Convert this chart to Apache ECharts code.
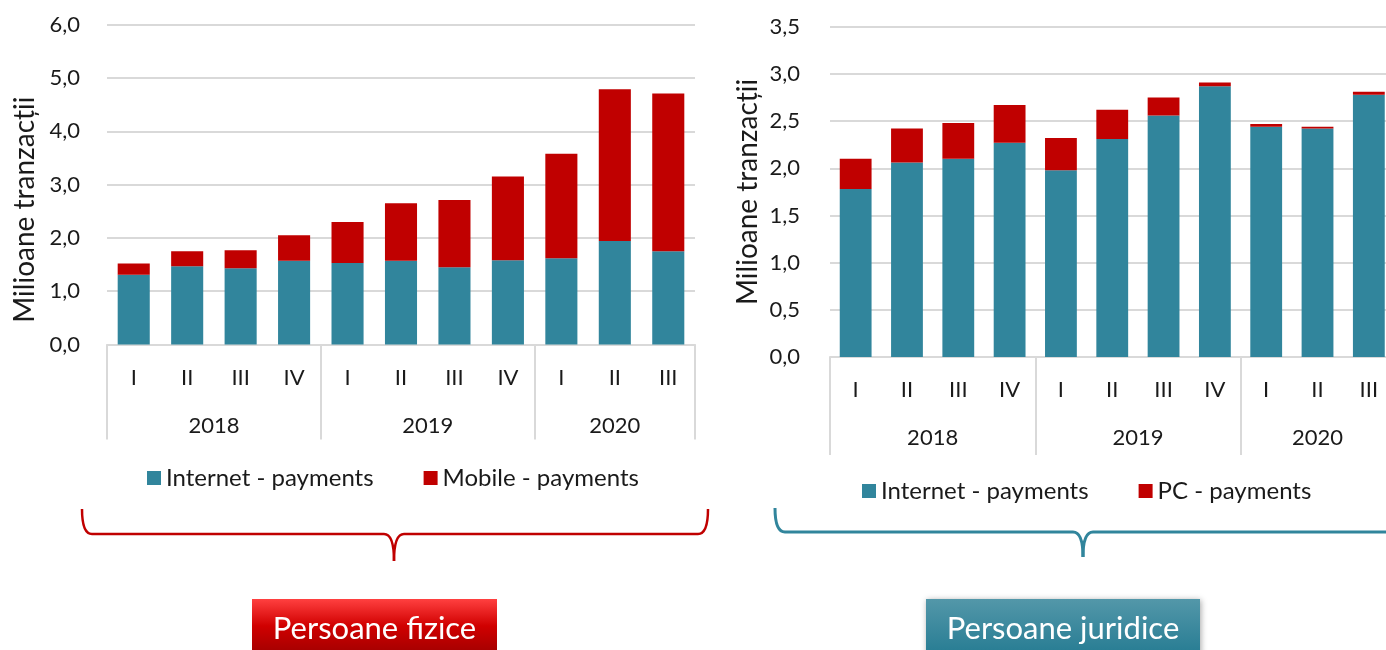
<!DOCTYPE html>
<html>
<head>
<meta charset="utf-8">
<script src="https://cdn.jsdelivr.net/npm/echarts@6/dist/echarts.min.js"></script>
<style>
html,body{margin:0;padding:0;background:#fff;}
#c{width:1386px;height:650px;}
</style>
</head>
<body>
<div id="c"></div>
<script>
// ---- data ----
const quarters = ['I','II','III','IV','I','II','III','IV','I','II','III'];
const years = ['2018','2019','2020'];
const quartersPerYear = [4,4,3];

const fiziceInternet = [1.31,1.47,1.43,1.57,1.53,1.57,1.45,1.58,1.62,1.94,1.75];
const fiziceMobile   = [0.21,0.28,0.34,0.48,0.77,1.08,1.26,1.57,1.96,2.85,2.96];

const juridiceInternet = [1.78,2.06,2.10,2.27,1.98,2.31,2.56,2.87,2.44,2.42,2.78];
const juridicePC       = [0.32,0.36,0.38,0.40,0.34,0.31,0.19,0.04,0.03,0.02,0.03];

const yTitle = 'Milioane tranzacții';
const titleLeft = 'Persoane fizice';
const titleRight = 'Persoane juridice';

// ---- derived group positions ----
const bounds = [0];
quartersPerYear.forEach(n => bounds.push(bounds[bounds.length-1] + n));
const centers = quartersPerYear.map((n,i) => bounds[i] + n/2);
const centerLabel = {};
centers.forEach((c,i) => centerLabel[c] = years[i]);

const FONT = 'Lato';
const TEAL = '#31859c';
const RED = '#c00000';
const GRID = '#d9d9d9';
const TXT = '#1a1a1a';

const fmt = v => v.toFixed(1).replace('.', ',');
const grad = stops => ({type:'linear', x:0, y:0, x2:0, y2:1, colorStops:stops});

function quarterAxis(gi){
  return {
    type:'category', gridIndex:gi, data:quarters, position:'bottom',
    axisLine:{show:true, lineStyle:{color:GRID, width:2}},
    axisTick:{show:false},
    axisLabel:{color:TXT, fontFamily:FONT, fontSize:22, margin:22, interval:0}
  };
}
function yearAxis(gi, len){
  return {
    type:'value', gridIndex:gi, min:0, max:bounds[bounds.length-1], position:'bottom',
    axisLine:{show:false}, splitLine:{show:false},
    axisTick:{show:true, customValues:bounds, length:len, lineStyle:{color:GRID, width:2}},
    axisLabel:{show:true, customValues:centers, formatter:v => centerLabel[v] || '',
      color:TXT, fontFamily:FONT, fontSize:22, margin:70}
  };
}
function yAxis(gi, max, interval, margin, pad){
  return {
    type:'value', gridIndex:gi, min:0, max:max, interval:interval,
    axisLine:{show:false}, axisTick:{show:false},
    splitLine:{show:true, lineStyle:{color:GRID, width:2}},
    axisLabel:{color:TXT, fontFamily:FONT, fontSize:22, margin:margin, formatter:fmt},
    name:yTitle, nameLocation:'middle', nameRotate:90, nameGap:68,
    nameTextStyle:{color:TXT, fontFamily:FONT, fontSize:28, padding:pad}
  };
}

// curly brace built from lines and quadratic curves
function brace(x0, x1, top, yh, tipX, tipY, color, w, r){
  const st = {stroke:color, lineWidth:w, fill:null};
  const els = [
    {type:'bezierCurve', shape:{x1:x0, y1:top, cpx1:x0, cpy1:yh, x2:x0+r, y2:yh}, style:st},
    {type:'line', shape:{x1:x0+r, y1:yh, x2:tipX-r, y2:yh}, style:st},
    {type:'bezierCurve', shape:{x1:tipX-r, y1:yh, cpx1:tipX, cpy1:yh, x2:tipX, y2:tipY}, style:st},
    {type:'bezierCurve', shape:{x1:tipX, y1:tipY, cpx1:tipX, cpy1:yh, x2:tipX+r, y2:yh}, style:st}
  ];
  if (x1 > 1386) {
    els.push({type:'line', shape:{x1:tipX+r, y1:yh, x2:x1, y2:yh}, style:st});
  } else {
    els.push({type:'line', shape:{x1:tipX+r, y1:yh, x2:x1-r, y2:yh}, style:st});
    els.push({type:'bezierCurve', shape:{x1:x1-r, y1:yh, cpx1:x1, cpy1:yh, x2:x1, y2:top}, style:st});
  }
  return els;
}

const chart = echarts.init(document.getElementById('c'), null, {renderer:'canvas'});
chart.setOption({
  animation:false,
  backgroundColor:'#fff',
  grid:[
    {left:107, width:588, top:24.7, height:319.8, outerBoundsMode:'none', containLabel:false},
    {left:830, width:564.5, top:26.7, height:330.3, outerBoundsMode:'none', containLabel:false}
  ],
  xAxis:[quarterAxis(0), yearAxis(0,95), quarterAxis(1), yearAxis(1,98)],
  yAxis:[yAxis(0,6,1,27,[0,50,0,0]), yAxis(1,3.5,0.5,30,[0,0,0,0])],
  legend:[
    {data:['Internet - payments','Mobile - payments'], left:142, top:461,
     itemWidth:14, itemHeight:14, itemGap:50, icon:'rect',
     textStyle:{color:TXT, fontFamily:FONT, fontSize:24}},
    {data:['Internet - payments','PC - payments'], left:857, top:474,
     itemWidth:14, itemHeight:14, itemGap:50, icon:'rect',
     textStyle:{color:TXT, fontFamily:FONT, fontSize:24}}
  ],
  series:[
    {name:'Internet - payments', type:'bar', stack:'f', xAxisIndex:0, yAxisIndex:0,
     data:fiziceInternet, barWidth:'60%', itemStyle:{color:TEAL}},
    {name:'Mobile - payments', type:'bar', stack:'f', xAxisIndex:0, yAxisIndex:0,
     data:fiziceMobile, barWidth:'60%', itemStyle:{color:RED}},
    {name:'Internet - payments', type:'bar', stack:'j', xAxisIndex:2, yAxisIndex:1,
     data:juridiceInternet, barWidth:'62%', itemStyle:{color:TEAL}},
    {name:'PC - payments', type:'bar', stack:'j', xAxisIndex:2, yAxisIndex:1,
     data:juridicePC, barWidth:'62%', itemStyle:{color:RED}}
  ],
  graphic:[].concat(
    brace(82, 708, 509, 534, 394, 561, RED, 2.5, 10),
    brace(775, 1400, 508, 532, 1083, 557, TEAL, 3, 10),
    [
    {type:'group', left:252, top:599, children:[
      {type:'rect', shape:{x:0, y:0, width:245, height:60},
       style:{fill:grad([{offset:0,color:'#ff4040'},{offset:0.45,color:'#d00000'},{offset:1,color:'#9a0000'}])}},
      {type:'text', x:122.5, y:30, style:{text:titleLeft, fill:'#fff', font:'31px Lato', align:'center', verticalAlign:'middle'}}
    ]},
    {type:'group', left:926, top:599, children:[
      {type:'rect', shape:{x:0, y:0, width:274, height:60},
       style:{fill:grad([{offset:0,color:'#5397a9'},{offset:1,color:'#237a91'}]),
         shadowBlur:6, shadowColor:'rgba(0,0,0,0.35)', shadowOffsetX:1, shadowOffsetY:1}},
      {type:'text', x:137, y:30, style:{text:titleRight, fill:'#fff', font:'31px Lato', align:'center', verticalAlign:'middle'}}
    ]}
  ])
});
</script>
</body>
</html>
